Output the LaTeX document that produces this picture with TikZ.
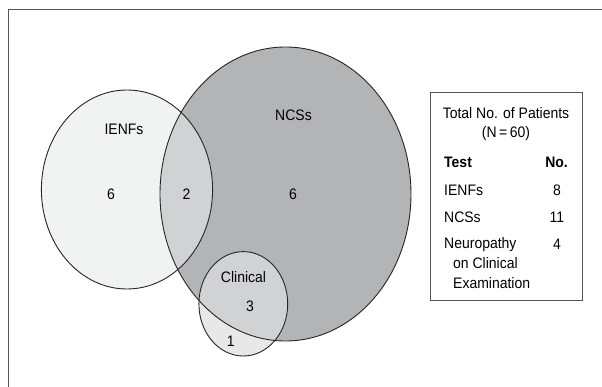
\documentclass[tikz,border=0pt]{standalone}
\usepackage{fontspec}
\setmainfont{Liberation Sans}[FakeStretch=0.92]
\definecolor{frame}{HTML}{555555}
\definecolor{ncsfill}{HTML}{B3B4B6}
\definecolor{ienffill}{HTML}{F1F2F2}
\definecolor{overlapfill}{HTML}{D1D2D4}
\definecolor{clinfill}{HTML}{E8E8E9}
\begin{document}
\begin{tikzpicture}[x=1pt,y=-1pt,
  lbl/.style={inner sep=0pt,font=\fontsize{15.2}{18}\selectfont,text=black},
  lblb/.style={lbl,font=\fontsize{15.2}{18}\selectfont\bfseries},
  outline/.style={draw=black!85,line width=0.9pt}]
\useasboundingbox (0,0) rectangle (602,387);
\fill[white] (0,0) rectangle (602,387);
% frame
\draw[frame,line width=1.5pt] (8.5,387) -- (8.5,9.5) -- (602,9.5);
% regions
\def\ienf{(127,189.5) ellipse [x radius=85.6pt, y radius=99.5pt]}
\def\ncs{(285.5,194) ellipse [x radius=125.5pt, y radius=147pt]}
\def\clin{(243.3,303.8) ellipse [x radius=44.4pt, y radius=52.2pt]}
\fill[ncsfill] \ncs;
\fill[ienffill] \ienf;
\begin{scope}
  \clip \ienf;
  \fill[overlapfill] \ncs;
\end{scope}
\fill[clinfill] \clin;
\begin{scope}
  \clip \clin;
  \fill[overlapfill] \ncs;
\end{scope}
\draw[outline] \ncs;
\draw[outline] \ienf;
\draw[outline] \clin;
% venn labels
\node[lbl] (tienf) at (124,129) {IENFs};
\node[lbl] (n6a) at (111,194) {6};
\node[lbl] (n2) at (186.5,194) {2};
\node[lbl] (tncs) at (293.5,115) {NCSs};
\node[lbl] (n6b) at (293,194) {6};
\node[lbl] (tclin) at (243.5,276.7) {Clinical};
\node[lbl] (n3) at (250,306.7) {3};
\node[lbl] (n1) at (230.8,341.7) {1};
% legend box
\draw[frame,line width=1pt] (430,93) rectangle (582.5,300);
\node[lbl] (title1) at (506,113) {Total No. of Patients};
\node[lbl] (title2) at (506,134) {(N\,=\,60)};
\node[lblb,anchor=west] (htest) at (444,162.7) {Test};
\node[lblb,anchor=east] (hno) at (568,162.7) {No.};
\node[lbl,anchor=west] (rienf) at (444,190.5) {IENFs};
\node[lbl] (vienf) at (557,190.5) {8};
\node[lbl,anchor=west] (rncs) at (444,217.3) {NCSs};
\node[lbl] (vncs) at (557,217.3) {11};
\node[lbl,anchor=west] (rneu) at (444,244.3) {Neuropathy};
\node[lbl] (vneu) at (557,244) {4};
\node[lbl,anchor=west] (rneu2) at (453,263.3) {on Clinical};
\node[lbl,anchor=west] (rneu3) at (453,282.7) {Examination};
\end{tikzpicture}
\end{document}
